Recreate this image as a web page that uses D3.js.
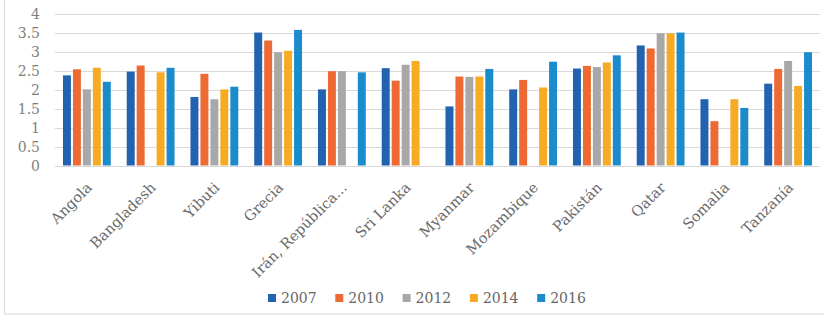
<!DOCTYPE html>
<html>
<head>
<meta charset="utf-8">
<script src="https://cdn.jsdelivr.net/npm/d3@7"></script>
<style>
  body { margin: 0; background: #fff; }
  text { font-family: "DejaVu Serif", serif; }
</style>
</head>
<body>
<div id="chart"></div>
<script>
const countries = ["Angola", "Bangladesh", "Yibuti", "Grecia", "Irán, República...", "Sri Lanka",
  "Myanmar", "Mozambique", "Pakistán", "Qatar", "Somalia", "Tanzanía"];
const years = ["2007", "2010", "2012", "2014", "2016"];

// null = no bar for that year
const v2007 = [2.38, 2.48, 1.81, 3.51, 2.01, 2.57, 1.56, 2.01, 2.56, 3.17, 1.75, 2.16];
const v2010 = [2.54, 2.64, 2.42, 3.30, 2.49, 2.24, 2.35, 2.26, 2.63, 3.09, 1.17, 2.55];
const v2012 = [2.01, null, 1.75, 2.99, 2.49, 2.66, 2.34, null, 2.60, 3.49, null, 2.76];
const v2014 = [2.58, 2.46, 2.01, 3.03, null, 2.76, 2.35, 2.06, 2.72, 3.49, 1.75, 2.10];
const v2016 = [2.21, 2.58, 2.08, 3.58, 2.46, null, 2.55, 2.74, 2.91, 3.51, 1.52, 2.99];
const yTicks = [0, 0.5, 1, 1.5, 2, 2.5, 3, 3.5, 4];

const series = [v2007, v2010, v2012, v2014, v2016];
const colors = ["#2163b0", "#ee6a33", "#a8a8a8", "#f7ab25", "#1b8ccb"];

const width = 824, height = 318;
const margin = {top: 14, right: 4, bottom: 152.5, left: 55};
const innerW = width - margin.left - margin.right,
      innerH = height - margin.top - margin.bottom;

const svg = d3.select("#chart")
  .append("svg")
    .attr("width", width)
    .attr("height", height);

// outer frame
svg.append("rect")
  .attr("x", 4.5).attr("y", -2)
  .attr("width", 830).attr("height", 316)
  .attr("fill", "none")
  .attr("stroke", "#d9d9d9");

const g = svg.append("g")
  .attr("transform", `translate(${margin.left}, ${margin.top})`);

const x0 = d3.scaleBand()
  .domain(countries)
  .range([0, innerW])
  .paddingInner(0.25)
  .paddingOuter(0.125);

const x1 = d3.scaleBand()
  .domain(years)
  .range([0, x0.bandwidth()])
  .paddingInner(0.2);

const y = d3.scaleLinear()
  .domain([0, 4])
  .range([innerH, 0]);

// gridlines
g.selectAll("line.grid")
  .data(yTicks)
  .join("line")
    .attr("class", "grid")
    .attr("x1", 0)
    .attr("x2", innerW)
    .attr("y1", d => Math.round(y(d)) + 0.5)
    .attr("y2", d => Math.round(y(d)) + 0.5)
    .attr("stroke", "#d9d9d9")
    .attr("stroke-width", 1.2);

// y tick labels
g.selectAll("text.ytick")
  .data(yTicks)
  .join("text")
    .attr("class", "ytick")
    .attr("x", -15)
    .attr("y", d => y(d))
    .attr("dy", "0.36em")
    .attr("text-anchor", "end")
    .style("font-size", "14px")
    .style("fill", "#7f7f7f")
    .text(d => d);

// bars
const groups = g.selectAll("g.country")
  .data(countries)
  .join("g")
    .attr("class", "country")
    .attr("transform", d => `translate(${x0(d)}, 0)`);

groups.selectAll("rect")
  .data((c, i) => years.map((yr, j) => ({yr, j, v: series[j][i]})).filter(d => d.v != null))
  .join("rect")
    .attr("x", d => x1(d.yr))
    .attr("width", x1.bandwidth())
    .attr("y", d => y(d.v))
    .attr("height", d => innerH - y(d.v))
    .attr("fill", d => colors[d.j]);

// category labels, rotated
g.selectAll("text.xlab")
  .data(countries)
  .join("text")
    .attr("class", "xlab")
    .attr("transform", d => `translate(${x0(d) + x0.bandwidth() / 2 + 6}, ${innerH + 23}) rotate(-45)`)
    .attr("text-anchor", "end")
    .style("font-size", "14.5px")
    .style("fill", "#6a6a6a")
    .text(d => d);

// legend
const legend = svg.append("g")
  .attr("transform", "translate(268, 298)");
const item = legend.selectAll("g")
  .data(years)
  .join("g")
    .attr("transform", (d, i) => `translate(${i * 67.3}, 0)`);
item.append("rect")
  .attr("x", 0).attr("y", -4)
  .attr("width", 8).attr("height", 8)
  .attr("fill", (d, i) => colors[i]);
item.append("text")
  .attr("x", 13)
  .attr("y", 0)
  .attr("dy", "0.36em")
  .style("font-size", "14px")
  .style("fill", "#666")
  .text(d => d);
</script>
</body>
</html>
